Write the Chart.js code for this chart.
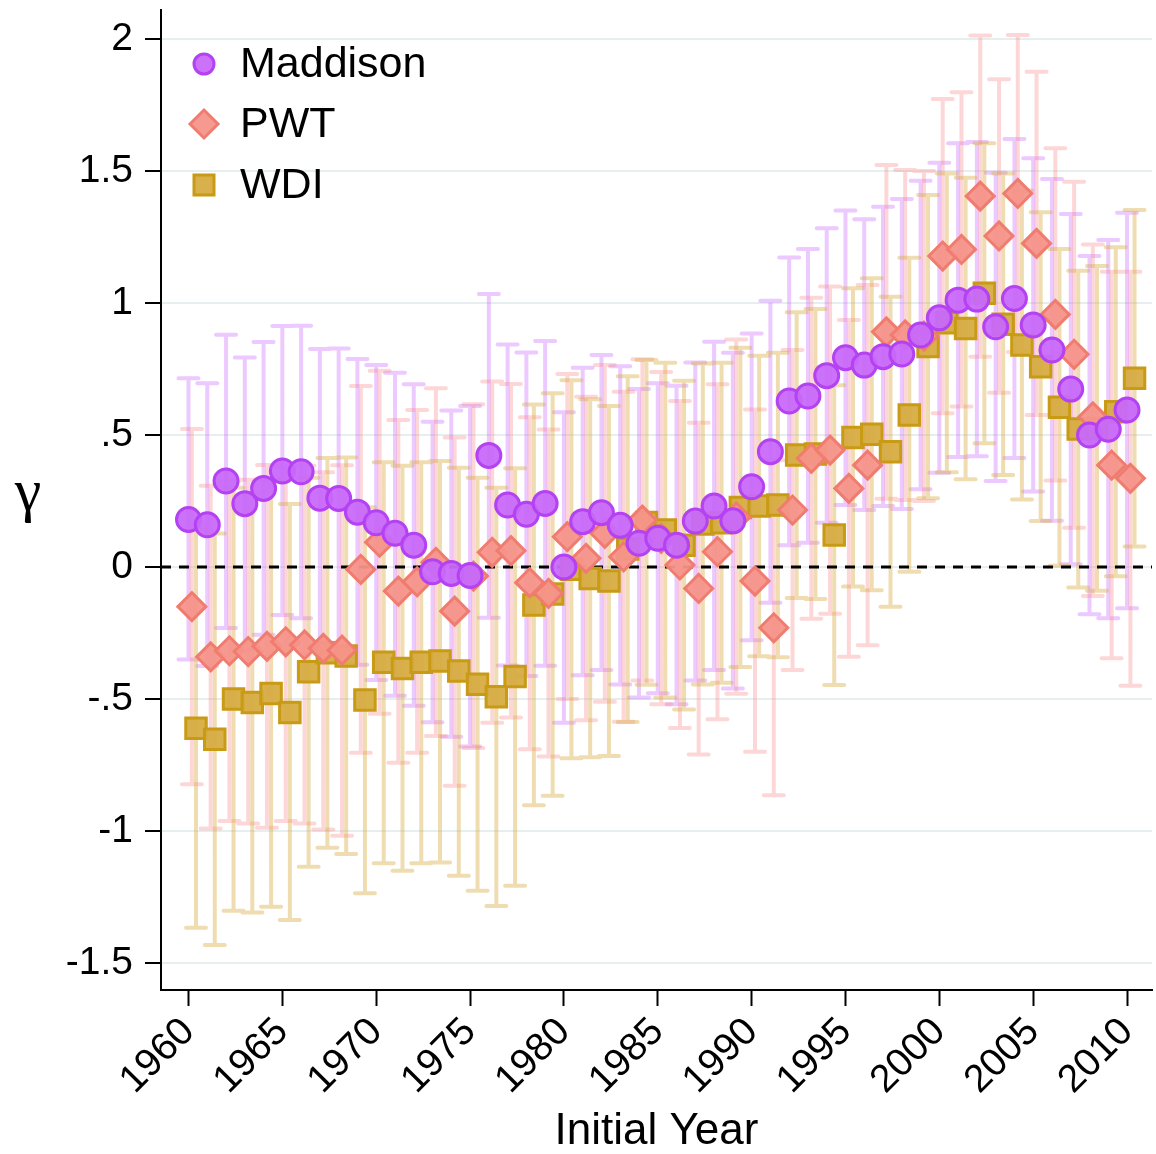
<!DOCTYPE html>
<html>
<head>
<meta charset="utf-8">
<script src="https://cdn.jsdelivr.net/npm/chart.js@4.4.1/dist/chart.umd.min.js"></script>
<style>
  html, body { margin: 0; padding: 0; background: #fff; }
  #wrap { width: 1156px; height: 1154px; position: relative; }
</style>
</head>
<body>
<div id="wrap"><canvas id="gamma-chart"></canvas></div>
<script>
  "use strict";

  // Data
  var years = [1960, 1961, 1962, 1963, 1964, 1965, 1966, 1967, 1968, 1969,
    1970, 1971, 1972, 1973, 1974, 1975, 1976, 1977, 1978, 1979,
    1980, 1981, 1982, 1983, 1984, 1985, 1986, 1987, 1988, 1989,
    1990, 1991, 1992, 1993, 1994, 1995, 1996, 1997, 1998, 1999,
    2000, 2001, 2002, 2003, 2004, 2005, 2006, 2007, 2008, 2009, 2010];

  var maddison = [0.18, 0.16, 0.326, 0.24, 0.298, 0.364, 0.361, 0.261, 0.26, 0.208,
    0.168, 0.128, 0.083, -0.018, -0.024, -0.032, 0.423, 0.235, 0.2, 0.241,
    0.0, 0.172, 0.206, 0.158, 0.09, 0.109, 0.083, 0.174, 0.231, 0.175,
    0.304, 0.437, 0.629, 0.648, 0.725, 0.793, 0.765, 0.797, 0.807, 0.879,
    0.944, 1.011, 1.015, 0.91, 1.017, 0.917, 0.822, 0.674, 0.5, 0.522, 0.595];
  var maddisonHi = [0.715, 0.696, 0.88, 0.794, 0.852, 0.913, 0.914, 0.826, 0.828, 0.788,
    0.765, 0.736, 0.692, 0.55, 0.593, 0.61, 1.034, 0.843, 0.813, 0.856,
    0.586, 0.755, 0.803, 0.761, 0.674, 0.696, 0.687, 0.775, 0.853, 0.812,
    0.885, 1.009, 1.173, 1.205, 1.283, 1.351, 1.317, 1.365, 1.394, 1.463,
    1.531, 1.605, 1.61, 1.494, 1.621, 1.548, 1.47, 1.337, 1.178, 1.239, 1.342];
  var maddisonLo = [-0.35, -0.375, -0.231, -0.314, -0.256, -0.182, -0.194, -0.304, -0.305, -0.37,
    -0.428, -0.487, -0.525, -0.588, -0.643, -0.68, -0.192, -0.373, -0.413, -0.374,
    -0.59, -0.41, -0.39, -0.445, -0.494, -0.478, -0.52, -0.43, -0.39, -0.46,
    -0.277, -0.135, 0.083, 0.092, 0.168, 0.235, 0.216, 0.231, 0.22, 0.295,
    0.357, 0.417, 0.42, 0.326, 0.413, 0.286, 0.175, 0.011, -0.179, -0.194, -0.156];

  var pwt = [-0.15, -0.34, -0.317, -0.32, -0.30, -0.283, -0.295, -0.308, -0.315, -0.009,
    0.094, -0.091, -0.056, 0.018, -0.167, -0.034, 0.056, 0.062, -0.059, -0.1,
    0.115, 0.033, 0.128, 0.039, 0.178, 0.109, 0.008, -0.081, 0.058, 0.19,
    -0.053, -0.23, 0.216, 0.412, 0.443, 0.298, 0.386, 0.891, 0.879, 0.875,
    1.178, 1.203, 1.405, 1.254, 1.415, 1.226, 0.957, 0.806, 0.569, 0.386, 0.336];
  var pwtHi = [0.523, 0.308, 0.326, 0.331, 0.387, 0.38, 0.384, 0.359, 0.386, 0.686,
    0.744, 0.557, 0.595, 0.677, 0.491, 0.617, 0.703, 0.693, 0.567, 0.521,
    0.731, 0.645, 0.765, 0.664, 0.787, 0.739, 0.629, 0.547, 0.692, 0.862,
    0.597, 0.405, 0.822, 1.02, 1.063, 0.936, 1.068, 1.523, 1.504, 1.50,
    1.773, 1.798, 2.013, 1.848, 2.015, 1.876, 1.586, 1.459, 1.222, 1.119, 1.119];
  var pwtLo = [-0.823, -0.99, -0.962, -0.971, -0.987, -0.962, -0.971, -0.994, -1.018, -0.703,
    -0.556, -0.741, -0.703, -0.64, -0.828, -0.685, -0.59, -0.57, -0.69, -0.718,
    -0.50, -0.58, -0.51, -0.586, -0.43, -0.52, -0.61, -0.71, -0.576, -0.48,
    -0.70, -0.864, -0.39, -0.196, -0.177, -0.34, -0.296, 0.259, 0.254, 0.25,
    0.583, 0.608, 0.797, 0.66, 0.815, 0.576, 0.328, 0.149, -0.11, -0.345, -0.45];

  var wdi = [-0.611, -0.652, -0.5, -0.513, -0.479, -0.551, -0.397, -0.325, -0.337, -0.504,
    -0.361, -0.384, -0.361, -0.356, -0.394, -0.444, -0.491, -0.415, -0.144, -0.102,
    -0.008, -0.043, -0.053, 0.068, 0.169, 0.14, 0.083, 0.163, 0.168, 0.226,
    0.231, 0.235, 0.424, 0.428, 0.121, 0.491, 0.503, 0.437, 0.576, 0.835,
    0.925, 0.904, 1.037, 0.92, 0.841, 0.759, 0.605, 0.523, 0.525, 0.588, 0.715];
  var wdiHi = [0.145, 0.127, 0.30, 0.28, 0.329, 0.239, 0.338, 0.413, 0.415, 0.227,
    0.397, 0.384, 0.397, 0.402, 0.376, 0.338, 0.30, 0.374, 0.616, 0.658,
    0.708, 0.636, 0.61, 0.723, 0.784, 0.774, 0.706, 0.771, 0.774, 0.831,
    0.80, 0.812, 0.965, 0.977, 0.689, 1.056, 1.094, 1.024, 1.172, 1.409,
    1.491, 1.475, 1.605, 1.491, 1.426, 1.344, 1.205, 1.122, 1.14, 1.211, 1.352];
  var wdiLo = [-1.366, -1.432, -1.302, -1.308, -1.287, -1.337, -1.135, -1.063, -1.087, -1.236,
    -1.122, -1.15, -1.122, -1.119, -1.169, -1.226, -1.284, -1.207, -0.902, -0.866,
    -0.724, -0.72, -0.716, -0.587, -0.446, -0.494, -0.54, -0.445, -0.438, -0.379,
    -0.338, -0.342, -0.117, -0.121, -0.447, -0.074, -0.088, -0.15, -0.018, 0.261,
    0.359, 0.333, 0.469, 0.349, 0.256, 0.174, 0.005, -0.077, -0.09, -0.035, 0.078];

  var xTicks = [1960, 1965, 1970, 1975, 1980, 1985, 1990, 1995, 2000, 2005, 2010];
  var yTicks = [-1.5, -1, -0.5, 0, 0.5, 1, 1.5, 2];
  var yTickLabels = ["-1.5", "-1", "-.5", "0", ".5", "1", "1.5", "2"];

  var FONT = "'Liberation Sans', Arial, Helvetica, sans-serif";

  // small horizontal shift so the three series sit side by side
  function points(vals, lo, hi, shift) {
    return years.map(function (yr, i) {
      return { x: yr + shift, y: vals[i], lo: lo[i], hi: hi[i] };
    });
  }

  // Error bars + dashed zero line, drawn under the markers
  var errorBars = {
    id: "errorBars",
    beforeDatasetsDraw: function (chart) {
      var ctx = chart.ctx, area = chart.chartArea;
      var xs = chart.scales.x, ys = chart.scales.y;
      ctx.save();
      chart.data.datasets.forEach(function (ds) {
        ctx.strokeStyle = ds.barColor;
        ctx.lineWidth = 4;
        ctx.lineCap = "round";
        ctx.beginPath();
        ds.data.forEach(function (p) {
          var px = xs.getPixelForValue(p.x);
          var top = ys.getPixelForValue(p.hi);
          var bot = ys.getPixelForValue(p.lo);
          ctx.moveTo(px, top); ctx.lineTo(px, bot);
          ctx.moveTo(px - 10, top); ctx.lineTo(px + 10, top);
          ctx.moveTo(px - 10, bot); ctx.lineTo(px + 10, bot);
        });
        ctx.stroke();
      });
      var y0 = ys.getPixelForValue(0);
      ctx.strokeStyle = "#000";
      ctx.lineWidth = 3;
      ctx.lineCap = "butt";
      ctx.setLineDash([10, 8]);
      ctx.beginPath();
      ctx.moveTo(area.left, y0);
      ctx.lineTo(area.right, y0);
      ctx.stroke();
      ctx.restore();
    }
  };

  // Legend inside the plot + upright gamma axis title
  var extras = {
    id: "extras",
    afterDraw: function (chart) {
      var ctx = chart.ctx;
      ctx.save();
      var rows = [
        { label: "Maddison", shape: "circle", y: 64 },
        { label: "PWT", shape: "diamond", y: 124 },
        { label: "WDI", shape: "square", y: 185 }
      ];
      rows.forEach(function (r, i) {
        var ds = chart.data.datasets[i];
        var cx = 204;
        ctx.fillStyle = ds.backgroundColor;
        ctx.strokeStyle = ds.borderColor;
        ctx.lineWidth = 3;
        ctx.beginPath();
        if (r.shape === "circle") {
          ctx.arc(cx, r.y, 10, 0, Math.PI * 2);
        } else if (r.shape === "diamond") {
          ctx.moveTo(cx - 14, r.y); ctx.lineTo(cx, r.y - 14);
          ctx.lineTo(cx + 14, r.y); ctx.lineTo(cx, r.y + 14);
          ctx.closePath();
        } else {
          ctx.rect(cx - 10, r.y - 10, 20, 20);
        }
        ctx.fill();
        ctx.stroke();
        ctx.fillStyle = "#000";
        ctx.font = "43px " + FONT;
        ctx.textBaseline = "middle";
        ctx.textAlign = "left";
        ctx.fillText(r.label, 240, r.y + 1);
      });
      ctx.font = "60px 'Liberation Serif', 'DejaVu Serif', serif";
      ctx.textAlign = "center";
      ctx.textBaseline = "middle";
      ctx.fillText("\u03b3", 28, 494);
      ctx.restore();
    }
  };

  var ctx1 = document.getElementById("gamma-chart").getContext("2d");
  var myChart1 = new Chart(ctx1, {
    type: "scatter",
    data: {
      datasets: [
        {
          label: "Maddison",
          data: points(maddison, maddisonLo, maddisonHi, 0),
          pointStyle: "circle",
          pointRadius: 12,
          borderWidth: 3,
          backgroundColor: "rgba(200, 105, 250, 0.95)",
          borderColor: "#b442f2",
          barColor: "rgba(200, 100, 255, 0.35)",
        },
        {
          label: "PWT",
          data: points(pwt, pwtLo, pwtHi, 0.18),
          pointStyle: "rectRot",
          pointRadius: 14,
          borderWidth: 3,
          backgroundColor: "rgba(245, 148, 138, 0.95)",
          borderColor: "#f07c70",
          barColor: "rgba(250, 140, 140, 0.35)",
        },
        {
          label: "WDI",
          data: points(wdi, wdiLo, wdiHi, 0.4),
          pointStyle: "rect",
          pointRadius: 14.5,
          borderWidth: 3,
          backgroundColor: "rgba(214, 172, 66, 0.95)",
          borderColor: "#c99a14",
          barColor: "rgba(215, 170, 60, 0.4)",
        },
      ],
    },
    options: {
      responsive: true,
      maintainAspectRatio: false,
      animation: false,
      layout: { autoPadding: false, padding: { top: 10, right: 4, left: 0, bottom: 0 } },
      plugins: {
        legend: { display: false },
        tooltip: { enabled: false },
      },
      scales: {
        x: {
          type: "linear",
          min: 1958.535,
          max: 2011.33,
          afterBuildTicks: function (scale) {
            scale.ticks = xTicks.map(function (v) { return { value: v }; });
          },
          afterFit: function (scale) {
            scale.height = 164;
            scale.paddingLeft = 0;
            scale.paddingRight = 0;
          },
          ticks: {
            color: "#000",
            font: { family: FONT, size: 39 },
            minRotation: 45,
            maxRotation: 45,
            padding: 3,
            callback: function (v) { return String(v); },
          },
          grid: {
            drawOnChartArea: false,
            tickLength: 16,
            tickColor: "#000",
            tickWidth: 2,
          },
          border: { color: "#000", width: 2 },
          title: {
            display: true,
            text: "Initial Year",
            color: "#000",
            font: { family: FONT, size: 44, lineHeight: 1.0 },
            padding: { top: 0, bottom: 0 },
          },
        },
        y: {
          min: -1.602,
          max: 2.11,
          afterBuildTicks: function (scale) {
            scale.ticks = yTicks.map(function (v) { return { value: v }; });
          },
          afterFit: function (scale) {
            scale.width = 161;
            scale.paddingTop = 0;
            scale.paddingBottom = 0;
          },
          ticks: {
            color: "#000",
            font: { family: FONT, size: 39 },
            padding: 12,
            callback: function (v) {
              var i = yTicks.indexOf(v);
              return i >= 0 ? yTickLabels[i] : "";
            },
          },
          grid: {
            color: "#e6eef0",
            lineWidth: 2,
            tickLength: 16,
            tickColor: "#000",
            tickWidth: 2,
          },
          border: { color: "#000", width: 2 },
        },
      },
    },
    plugins: [errorBars, extras],
  });
</script>
</body>
</html>
